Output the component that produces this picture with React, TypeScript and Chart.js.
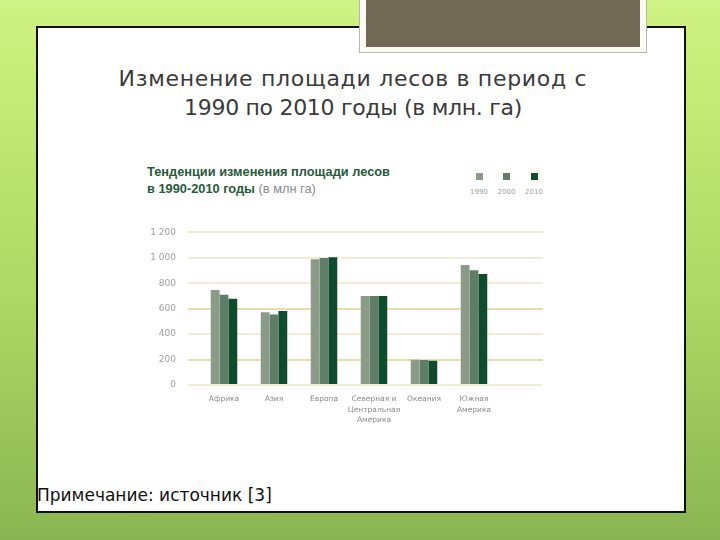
import React, { useEffect, useRef } from "react";
import { Chart, registerables } from "chart.js";

Chart.register(...registerables);

const regions: string[][] = [
  ["Африка"],
  ["Азия"],
  ["Европа"],
  ["Северная и", "Центральная", "Америка"],
  ["Океания"],
  ["Южная", "Америка"],
];
const years = ["1990", "2000", "2010"];
const forest1990 = [748, 572, 989, 700, 198, 944];
const forest2000 = [710, 554, 998, 700, 197, 902];
const forest2010 = [679, 582, 1005, 700, 191, 872];
const yMax = 1200;
const yStep = 200;
const seriesColors = ["#8a9b88", "#5f7e67", "#0f4b2d"];

function formatTick(v: number): string {
  const s = String(v);
  return s.length > 3 ? s.slice(0, s.length - 3) + " " + s.slice(-3) : s;
}

export default function App() {
  const ref = useRef<HTMLCanvasElement | null>(null);

  useEffect(() => {
    if (!ref.current) return;
    const series = [forest1990, forest2000, forest2010];
    const chart = new Chart(ref.current, {
      type: "bar",
      data: {
        datasets: series.map((vals, si) => ({
          label: years[si],
          data: vals.map((v, i) => ({ x: i, y: v })),
          backgroundColor: seriesColors[si],
          borderWidth: 0,
          barPercentage: 1,
          categoryPercentage: 0.53,
        })),
      },
      options: {
        responsive: false,
        animation: false,
        devicePixelRatio: 1,
        layout: { padding: { top: 14, right: 17, left: 0, bottom: 0 } },
        plugins: { legend: { display: false }, tooltip: { enabled: false } },
        scales: {
          x: {
            type: "linear",
            min: -0.72,
            max: 6.38,
            offset: false,
            grid: { display: false, offset: false },
            border: { display: false },
            afterFit: (s: any) => {
              s.height = 45;
            },
            ticks: {
              stepSize: 1,
              includeBounds: false,
              autoSkip: false,
              maxRotation: 0,
              minRotation: 0,
              padding: 1,
              color: "#8a8a8a",
              font: { family: "DejaVu Sans", size: 7.5, lineHeight: 1.4 },
              callback: (v: any) => {
                const n = Number(v);
                return Number.isInteger(n) && n >= 0 && n < regions.length ? regions[n] : "";
              },
            },
          },
          y: {
            min: 0,
            max: yMax,
            afterFit: (s: any) => {
              s.width = 58;
            },
            border: { display: false },
            grid: {
              drawTicks: false,
              lineWidth: 2,
              color: (c: any) =>
                c.tick && (c.tick.value === 600 || c.tick.value === 200) ? "#eddbb0" : "#f3ecd3",
            },
            ticks: {
              stepSize: yStep,
              padding: 12,
              color: "#a0a0a0",
              font: { family: "DejaVu Sans", size: 9 },
              callback: (v: any) => formatTick(Number(v)),
            },
          },
        },
      },
    });
    return () => chart.destroy();
  }, []);

  return (
    <div
      style={{
        position: "fixed",
        left: 0,
        top: 0,
        width: 720,
        height: 540,
        overflow: "hidden",
        background: "linear-gradient(to bottom, #cff384 0%, #c2ea74 20%, #abd463 60%, #8ab552 100%)",
      }}
    >
      <div
        style={{
          position: "absolute",
          left: 36,
          top: 26,
          width: 650,
          height: 487,
          background: "#fff",
          border: "2px solid #111",
          boxSizing: "border-box",
        }}
      />
      <div
        style={{
          position: "absolute",
          left: 359,
          top: -2,
          width: 288,
          height: 55,
          background: "#fbfbf3",
          border: "1px solid #b8b8a8",
          boxSizing: "border-box",
        }}
      />
      <div
        style={{
          position: "absolute",
          left: 366,
          top: 0,
          width: 274,
          height: 47,
          background: "#726856",
        }}
      />
      <div
        style={{
          position: "absolute",
          left: 40,
          top: 64,
          width: 626,
          textAlign: "center",
          fontFamily: "DejaVu Sans",
          fontSize: 22,
          lineHeight: "29px",
          color: "#3a3a3a",
        }}
      >
        <span style={{ letterSpacing: 0.7 }}>Изменение площади лесов в период с</span>
        <br />
        <span style={{ letterSpacing: -0.3 }}>1990 по 2010 годы (в млн. га)</span>
      </div>
      <div
        style={{
          position: "absolute",
          left: 147,
          top: 163,
          fontFamily: "Liberation Sans",
          fontSize: 12.8,
          lineHeight: "17px",
          color: "#285a3a",
          fontWeight: "bold",
        }}
      >
        Тенденции изменения площади лесов
        <br />
        в 1990-2010 годы <span style={{ fontWeight: "normal", color: "#8a8a8a" }}>(в млн га)</span>
      </div>
      {years.map((y, i) => (
        <div key={y}>
          <div
            style={{
              position: "absolute",
              left: 475.5 + i * 27.5,
              top: 173,
              width: 7,
              height: 7,
              background: seriesColors[i],
            }}
          />
          <div
            style={{
              position: "absolute",
              left: 464 + i * 27.5,
              top: 188,
              width: 30,
              textAlign: "center",
              fontFamily: "DejaVu Sans",
              fontSize: 7,
              color: "#a0a0a0",
            }}
          >
            {y}
          </div>
        </div>
      ))}
      <canvas
        ref={ref}
        width={430}
        height={215}
        style={{ position: "absolute", left: 130, top: 215, width: 430, height: 215 }}
      />
      <div
        style={{
          position: "absolute",
          left: 37,
          top: 485,
          fontFamily: "DejaVu Sans",
          fontSize: 17,
          color: "#111",
        }}
      >
        Примечание: источник [3]
      </div>
    </div>
  );
}
